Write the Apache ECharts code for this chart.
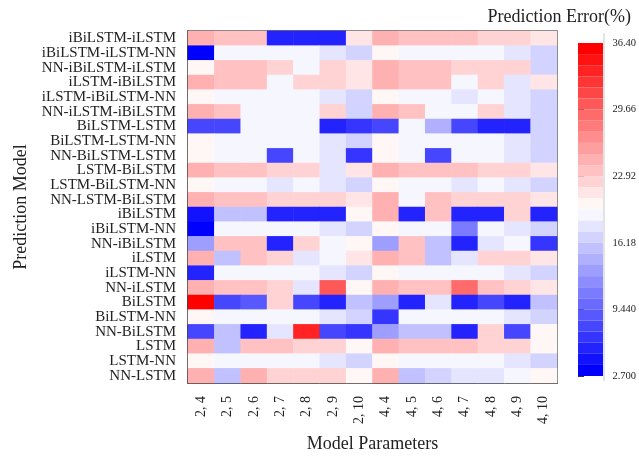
<!DOCTYPE html>
<html><head><meta charset="utf-8">
<script src="https://cdn.jsdelivr.net/npm/echarts@6/dist/echarts.min.js"></script>
<style>html,body{margin:0;padding:0;background:#fff}#c{width:639px;height:458px}</style>
</head><body><div id="c"></div>
<script>
const models = ['iBiLSTM-iLSTM','iBiLSTM-iLSTM-NN','NN-iBiLSTM-iLSTM','iLSTM-iBiLSTM','iLSTM-iBiLSTM-NN','NN-iLSTM-iBiLSTM','BiLSTM-LSTM','BiLSTM-LSTM-NN','NN-BiLSTM-LSTM','LSTM-BiLSTM','LSTM-BiLSTM-NN','NN-LSTM-BiLSTM','iBiLSTM','iBiLSTM-NN','NN-iBiLSTM','iLSTM','iLSTM-NN','NN-iLSTM','BiLSTM','BiLSTM-NN','NN-BiLSTM','LSTM','LSTM-NN','NN-LSTM'];
const params = ['2, 4','2, 5','2, 6','2, 7','2, 8','2, 9','2, 10','4, 4','4, 5','4, 6','4, 7','4, 8','4, 9','4, 10'];

const r_iBiLSTM_iLSTM      = [24.61,23.48,23.48,5.51,5.51,5.51,21.24,24.61,23.48,23.48,23.48,22.36,22.36,21.24];
const r_iBiLSTM_iLSTM_NN   = [3.26,18.99,18.99,18.99,18.99,17.87,16.74,20.11,18.99,18.99,18.99,18.99,17.87,16.74];
const r_NN_iBiLSTM_iLSTM   = [20.11,23.48,23.48,22.36,18.99,22.36,21.24,24.61,23.48,23.48,22.36,22.36,22.36,16.74];
const r_iLSTM_iBiLSTM      = [24.61,23.48,23.48,18.99,22.36,22.36,21.24,24.61,23.48,23.48,18.99,22.36,17.87,21.24];
const r_iLSTM_iBiLSTM_NN   = [20.11,18.99,18.99,18.99,18.99,17.87,16.74,20.11,18.99,18.99,17.87,18.99,17.87,16.74];
const r_NN_iLSTM_iBiLSTM   = [24.61,23.48,18.99,18.99,18.99,22.36,16.74,24.61,23.48,18.99,18.99,22.36,17.87,16.74];
const r_BiLSTM_LSTM        = [7.76,7.76,18.99,18.99,18.99,5.51,6.63,7.76,18.99,14.50,7.76,5.51,5.51,16.74];
const r_BiLSTM_LSTM_NN     = [20.11,18.99,18.99,18.99,18.99,17.87,16.74,20.11,18.99,18.99,18.99,18.99,17.87,16.74];
const r_NN_BiLSTM_LSTM     = [20.11,18.99,18.99,7.76,18.99,17.87,6.63,20.11,18.99,7.76,18.99,18.99,17.87,16.74];
const r_LSTM_BiLSTM        = [24.61,23.48,23.48,22.36,22.36,17.87,21.24,24.61,23.48,23.48,23.48,22.36,22.36,21.24];
const r_LSTM_BiLSTM_NN     = [20.11,18.99,18.99,17.87,18.99,17.87,16.74,20.11,18.99,18.99,17.87,18.99,17.87,16.74];
const r_NN_LSTM_BiLSTM     = [24.61,23.48,23.48,22.36,22.36,22.36,21.24,24.61,18.99,23.48,22.36,22.36,22.36,21.24];
const r_iBiLSTM            = [4.39,15.62,15.62,5.51,5.51,5.51,20.11,24.61,5.51,23.48,5.51,5.51,22.36,5.51];
const r_iBiLSTM_NN         = [3.26,18.99,18.99,18.99,18.99,17.87,16.74,20.11,18.99,18.99,11.13,18.99,17.87,16.74];
const r_NN_iBiLSTM         = [13.37,23.48,23.48,5.51,22.36,18.99,20.11,13.37,23.48,15.62,5.51,17.87,18.99,6.63];
const r_iLSTM              = [24.61,15.62,23.48,22.36,17.87,18.99,21.24,24.61,23.48,15.62,17.87,22.36,22.36,21.24];
const r_iLSTM_NN           = [5.51,18.99,18.99,18.99,18.99,17.87,16.74,20.11,18.99,18.99,18.99,18.99,17.87,16.74];
const r_NN_iLSTM           = [24.61,23.48,23.48,22.36,17.87,30.22,20.11,24.61,23.48,23.48,29.10,23.48,22.36,21.24];
const r_BiLSTM             = [35.84,7.76,8.88,22.36,7.76,5.51,15.62,13.37,5.51,17.87,5.51,7.76,5.51,15.62];
const r_BiLSTM_NN          = [20.11,18.99,18.99,18.99,18.99,17.87,16.74,6.63,18.99,18.99,18.99,18.99,17.87,16.74];
const r_NN_BiLSTM          = [7.76,15.62,5.51,17.87,33.59,7.76,6.63,13.37,15.62,15.62,5.51,22.36,7.76,20.11];
const r_LSTM               = [24.61,15.62,23.48,23.48,22.36,22.36,20.11,24.61,23.48,23.48,23.48,22.36,22.36,20.11];
const r_LSTM_NN            = [20.11,18.99,18.99,18.99,18.99,17.87,16.74,20.11,18.99,18.99,18.99,18.99,17.87,16.74];
const r_NN_LSTM            = [24.61,15.62,24.61,22.36,22.36,22.36,20.11,24.61,15.62,16.74,17.87,17.87,18.99,20.11];

const rows = [r_iBiLSTM_iLSTM,r_iBiLSTM_iLSTM_NN,r_NN_iBiLSTM_iLSTM,r_iLSTM_iBiLSTM,r_iLSTM_iBiLSTM_NN,r_NN_iLSTM_iBiLSTM,r_BiLSTM_LSTM,r_BiLSTM_LSTM_NN,r_NN_BiLSTM_LSTM,r_LSTM_BiLSTM,r_LSTM_BiLSTM_NN,r_NN_LSTM_BiLSTM,r_iBiLSTM,r_iBiLSTM_NN,r_NN_iBiLSTM,r_iLSTM,r_iLSTM_NN,r_NN_iLSTM,r_BiLSTM,r_BiLSTM_NN,r_NN_BiLSTM,r_LSTM,r_LSTM_NN,r_NN_LSTM];

const cbTicks = ['2.700','9.440','16.18','22.92','29.66','36.40'];
const vMin = 2.7, vMax = 36.4, nLevels = 30;

const data = [];
rows.forEach((r, i) => r.forEach((v, j) => data.push([j, i, v])));

function bwr(t) {
  let r, g, b;
  if (t <= 0.5) { r = g = Math.round(255 * 2 * t); b = 255; }
  else { r = 255; g = b = Math.round(255 * 2 * (1 - t)); }
  return 'rgb(' + r + ',' + g + ',' + b + ')';
}
const step = (vMax - vMin) / nLevels;
const pieces = [];
for (let k = 0; k < nLevels; k++) {
  const p = { gte: vMin + k * step, color: bwr(k / (nLevels - 1)) };
  if (k < nLevels - 1) p.lt = vMin + (k + 1) * step; else p.lte = vMax + 1;
  pieces.push(p);
}

const FONT = 'Liberation Serif';
const chart = echarts.init(document.getElementById('c'), null, { renderer: 'canvas' });
chart.setOption({
  animation: false,
  backgroundColor: '#fff',
  textStyle: { fontFamily: FONT, color: '#222' },
  title: { text: 'Prediction Error(%)', right: 3, top: 3,
    textStyle: { fontFamily: FONT, fontSize: 18, fontWeight: 'normal', color: '#222' } },
  graphic: [{ type: 'line', shape: { x1: 604, y1: 33, x2: 604, y2: 381 }, style: { stroke: '#e3e3e3', lineWidth: 2 }, z: 0 }],
  grid: [
    { left: 188, top: 31, width: 369, height: 353, show: true, borderColor: '#444', borderWidth: 1.5, backgroundColor: 'transparent' },
    { left: 578, top: 43, width: 25, height: 333, show: false }
  ],
  xAxis: [
    { type: 'category', data: params, gridIndex: 0,
      name: 'Model Parameters', nameLocation: 'middle', nameGap: 52,
      nameTextStyle: { fontFamily: FONT, fontSize: 18, color: '#222' },
      axisLine: { lineStyle: { color: '#333', width: 1.5 } },
      axisTick: { alignWithLabel: true, length: 6, lineStyle: { color: '#333' } },
      axisLabel: { rotate: 90, fontFamily: FONT, fontSize: 14, color: '#222', margin: 13, interval: 0 },
      splitLine: { show: false } },
    { type: 'value', gridIndex: 1, show: false, min: 0, max: 1 }
  ],
  yAxis: [
    { type: 'category', data: models, gridIndex: 0, inverse: true,
      name: 'Prediction Model', nameLocation: 'middle', nameGap: 158,
      nameTextStyle: { fontFamily: FONT, fontSize: 18, color: '#222' },
      axisLine: { lineStyle: { color: '#333', width: 1.5 } },
      axisTick: { alignWithLabel: true, length: 6, lineStyle: { color: '#333' } },
      axisLabel: { fontFamily: FONT, fontSize: 15, color: '#222', margin: 12, interval: 0 },
      splitLine: { show: false } },
    { type: 'value', gridIndex: 1, position: 'right', min: 0, max: 5, interval: 1,
      axisLine: { show: false },
      axisTick: { show: true, length: 6, lineStyle: { color: '#333' } },
      axisLabel: { fontFamily: FONT, fontSize: 10.5, color: '#222', margin: 10, formatter: v => cbTicks[v] },
      splitLine: { show: false } }
  ],
  visualMap: {
    type: 'piecewise', pieces: pieces, orient: 'vertical', left: 578, top: 43,
    itemWidth: 25, itemHeight: 333 / nLevels, itemGap: 0, itemSymbol: 'rect',
    showLabel: false, padding: 0, selectedMode: false, hoverLink: false, seriesIndex: 0
  },
  series: [{
    type: 'heatmap', xAxisIndex: 0, yAxisIndex: 0, data: data,
    itemStyle: { borderWidth: 0 },
    emphasis: { disabled: true }
  }]
});
</script></body></html>
